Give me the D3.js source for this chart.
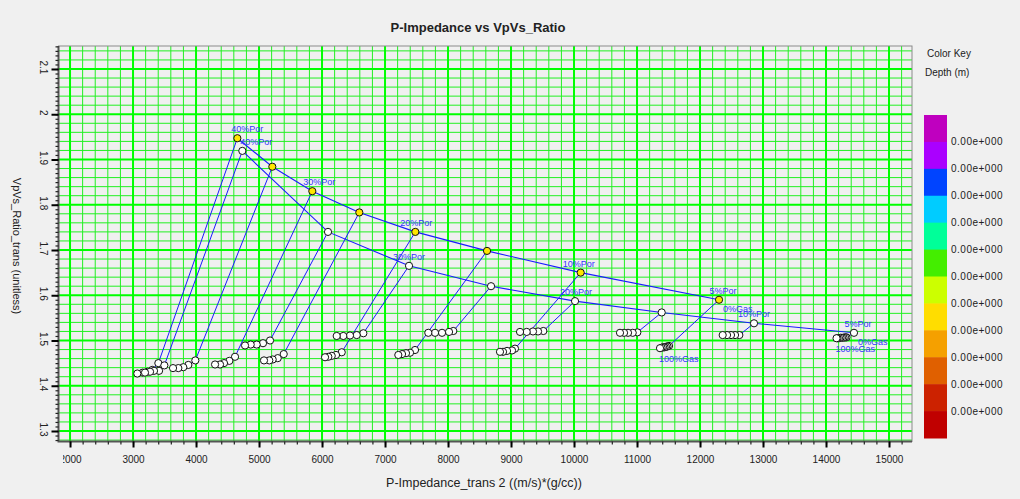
<!DOCTYPE html>
<html>
<head>
<meta charset="utf-8">
<script src="https://cdnjs.cloudflare.com/ajax/libs/d3/7.8.5/d3.min.js"></script>
<style>
body { margin: 0; background: #f0f0f0; }
svg { display: block; font-family: "Liberation Sans", Arial, sans-serif; }
</style>
</head>
<body>
<svg id="chart" width="1020" height="499"></svg>
<script>
// porosity steps shared by both templates
const porosity = [40, 35, 30, 25, 20, 15, 10, 5];

// upper template (yellow markers), brine case
const upperImp  = [4656, 5211, 5846, 6592, 7481, 8619, 10106, 12302];
const upperVpVs = [1.947, 1.884, 1.830, 1.783, 1.740, 1.698, 1.650, 1.590];

// lower template (white markers), brine case
const lowerImp  = [4735, 6095, 7381, 8683, 10016, 11392, 12857, 14444];
const lowerVpVs = [1.919, 1.740, 1.665, 1.620, 1.587, 1.562, 1.538, 1.517];

// gas substitution points hanging off each upper porosity point
const upperGasImp = [
  [3402, 3306, 3233, 3154, 3068],
  [3989, 3878, 3798, 3719, 3635],
  [4619, 4529, 4444, 4381, 4302],
  [5392, 5297, 5217, 5163, 5079],
  [6313, 6222, 6154, 6100, 6048],
  [7476, 7397, 7333, 7270, 7211],
  [9063, 9016, 8937, 8873, 8825],
  [11508, 11484, 11460, 11437, 11413, 11389, 11365]
];
const upperGasVpVs = [
  [1.450, 1.435, 1.431, 1.429, 1.427],
  [1.456, 1.446, 1.441, 1.439, 1.439],
  [1.464, 1.455, 1.450, 1.447, 1.447],
  [1.470, 1.461, 1.458, 1.456, 1.456],
  [1.474, 1.468, 1.466, 1.464, 1.463],
  [1.479, 1.473, 1.472, 1.470, 1.468],
  [1.482, 1.478, 1.477, 1.475, 1.475],
  [1.488, 1.487, 1.486, 1.485, 1.485, 1.484, 1.483]
];

// gas substitution points hanging off each lower porosity point
const lowerGasImp = [
  [3497, 3413, 3333, 3270, 3190],
  [5175, 5063, 4963, 4868, 4778],
  [6656, 6551, 6444, 6338, 6233],
  [8084, 8016, 7905, 7794, 7687],
  [9513, 9429, 9349, 9249, 9143],
  [11005, 10932, 10857, 10794, 10730],
  [12624, 12556, 12492, 12429, 12360],
  [14325, 14302, 14278, 14254, 14230, 14206, 14183, 14167]
];
const lowerGasVpVs = [
  [1.445, 1.433, 1.433, 1.431, 1.429],
  [1.500, 1.494, 1.491, 1.491, 1.489],
  [1.516, 1.512, 1.511, 1.510, 1.510],
  [1.521, 1.519, 1.517, 1.517, 1.517],
  [1.521, 1.520, 1.520, 1.519, 1.519],
  [1.518, 1.517, 1.517, 1.517, 1.517],
  [1.512, 1.512, 1.512, 1.512, 1.512],
  [1.507, 1.507, 1.506, 1.506, 1.506, 1.505, 1.505, 1.505]
];

// which porosity points carry a label
const labelled = [0, 2, 4, 6, 7];

// colour key
const keyColors = ["#bf00bf", "#aa00ff", "#0044ff", "#00ccff", "#00ff99", "#44ee00",
                   "#ccff00", "#ffdd00", "#f5a000", "#e06000", "#cc2200", "#c00000"];
const keyLabels = ["0.00e+000", "0.00e+000", "0.00e+000", "0.00e+000", "0.00e+000", "0.00e+000",
                   "0.00e+000", "0.00e+000", "0.00e+000", "0.00e+000", "0.00e+000"];

const svg = d3.select("#chart");
const plot = {left: 58.5, right: 912, top: 46, bottom: 441.5};
const blue = "#1a1aff";
const labelBlue = "#3434ff";

const x = d3.scaleLinear().domain([1817, 15365]).range([plot.left, plot.right]);
const y = d3.scaleLinear().domain([1.2768, 2.1508]).range([plot.bottom, plot.top]);

// title and axis names
svg.append("text").attr("x", 478).attr("y", 32).attr("text-anchor", "middle")
  .attr("font-size", 13).attr("font-weight", "bold").attr("fill", "#222")
  .text("P-Impedance vs VpVs_Ratio");
svg.append("text").attr("x", 484).attr("y", 487).attr("text-anchor", "middle")
  .attr("font-size", 12.5).attr("fill", "#222")
  .text("P-Impedance_trans 2 ((m/s)*(g/cc))");
svg.append("text").attr("text-anchor", "middle").attr("font-size", 11).attr("fill", "#222")
  .attr("transform", "translate(13,246) rotate(90)")
  .text("VpVs_Ratio_trans (unitless)");

// grid
const grid = svg.append("g");
const xGrid = d3.range(2000, 15201, 200);
const yGrid = d3.range(128, 215, 2);
grid.selectAll(".vminor").data(xGrid.filter(d => d % 1000 !== 0)).join("line")
  .attr("x1", d => x(d)).attr("x2", d => x(d)).attr("y1", plot.top).attr("y2", plot.bottom)
  .attr("stroke", "#22f022").attr("stroke-width", 1);
grid.selectAll(".hminor").data(yGrid.filter(d => d % 10 !== 0)).join("line")
  .attr("y1", d => y(d / 100)).attr("y2", d => y(d / 100)).attr("x1", plot.left).attr("x2", plot.right)
  .attr("stroke", "#22f022").attr("stroke-width", 1);
grid.selectAll(".vmajor").data(xGrid.filter(d => d % 1000 === 0)).join("line")
  .attr("x1", d => x(d)).attr("x2", d => x(d)).attr("y1", plot.top).attr("y2", plot.bottom)
  .attr("stroke", "#00ff00").attr("stroke-width", 2);
grid.selectAll(".hmajor").data(yGrid.filter(d => d % 10 === 0)).join("line")
  .attr("y1", d => y(d / 100)).attr("y2", d => y(d / 100)).attr("x1", plot.left).attr("x2", plot.right)
  .attr("stroke", "#00ff00").attr("stroke-width", 2);

// frame
svg.append("rect").attr("x", plot.left).attr("y", plot.top)
  .attr("width", plot.right - plot.left).attr("height", plot.bottom - plot.top)
  .attr("fill", "none").attr("stroke", "#8a8a8a").attr("stroke-width", 1);
svg.append("path")
  .attr("d", `M${plot.left},${plot.top}V${plot.bottom}H${plot.right}`)
  .attr("fill", "none").attr("stroke", "#555").attr("stroke-width", 2);

// x axis
const xMinor = svg.append("g").attr("transform", `translate(0,${plot.bottom})`)
  .call(d3.axisBottom(x).tickValues(xGrid).tickSize(3).tickFormat(""));
xMinor.select(".domain").remove();
xMinor.selectAll("line").attr("stroke", "#222").attr("stroke-width", 1.2);

svg.append("clipPath").attr("id", "xclip").append("rect")
  .attr("x", 63).attr("y", 0).attr("width", 1000).attr("height", 499);
const xMajor = svg.append("g").attr("clip-path", "url(#xclip)")
  .append("g").attr("transform", `translate(0,${plot.bottom})`)
  .call(d3.axisBottom(x).tickValues(d3.range(2000, 15001, 1000)).tickSize(6).tickPadding(8)
    .tickFormat(d3.format("d")));
xMajor.select(".domain").remove();
xMajor.attr("font-family", null).attr("font-size", 10);
xMajor.selectAll("line").attr("stroke", "#000").attr("stroke-width", 2);
xMajor.selectAll("text").attr("fill", "#222");

// y axis
const yMinor = svg.append("g").attr("transform", `translate(${plot.left},0)`)
  .call(d3.axisLeft(y).tickValues(d3.range(128, 216, 1).map(v => v / 100)).tickSize(3).tickFormat(""));
yMinor.select(".domain").remove();
yMinor.selectAll("line").attr("stroke", "#222").attr("stroke-width", 1.2);

const yMajor = svg.append("g").attr("transform", `translate(${plot.left},0)`)
  .call(d3.axisLeft(y).tickValues(d3.range(13, 22).map(v => v / 10)).tickSize(7)
    .tickFormat(d => String(+d.toFixed(1))));
yMajor.select(".domain").remove();
yMajor.attr("font-family", null).attr("font-size", 10);
yMajor.selectAll("line").attr("stroke", "#000").attr("stroke-width", 2);
yMajor.selectAll("text")
  .attr("x", 0).attr("dy", null).attr("text-anchor", "middle").attr("fill", "#222")
  .attr("transform", "translate(-18.5,-2) rotate(90)");

// template data as point lists
const upperPts = upperImp.map((v, i) => [v, upperVpVs[i]]);
const lowerPts = lowerImp.map((v, i) => [v, lowerVpVs[i]]);
const upperPaths = upperGasImp.map((g, i) => [upperPts[i], ...g.map((v, j) => [v, upperGasVpVs[i][j]])]);
const lowerPaths = lowerGasImp.map((g, i) => [lowerPts[i], ...g.map((v, j) => [v, lowerGasVpVs[i][j]])]);

const line = d3.line().x(d => x(d[0])).y(d => y(d[1]));
const marks = svg.append("g");

marks.selectAll(".gasline").data([...upperPaths, ...lowerPaths]).join("path")
  .attr("d", line).attr("fill", "none").attr("stroke", blue).attr("stroke-width", 1);
marks.selectAll(".porline").data([upperPts, lowerPts]).join("path")
  .attr("d", line).attr("fill", "none").attr("stroke", blue).attr("stroke-width", 1.1);

const gasPts = [...upperPaths, ...lowerPaths].flatMap(p => p.slice(1));
marks.selectAll(".gaspt").data(gasPts).join("circle")
  .attr("cx", d => x(d[0])).attr("cy", d => y(d[1])).attr("r", 3.6)
  .attr("fill", "#fff").attr("stroke", "#111").attr("stroke-width", 1);
marks.selectAll(".lowpt").data(lowerPts).join("circle")
  .attr("cx", d => x(d[0])).attr("cy", d => y(d[1])).attr("r", 3.6)
  .attr("fill", "#fff").attr("stroke", "#111").attr("stroke-width", 1);
marks.selectAll(".uppt").data(upperPts).join("circle")
  .attr("cx", d => x(d[0])).attr("cy", d => y(d[1])).attr("r", 3.6)
  .attr("fill", "#ffe600").attr("stroke", "#111").attr("stroke-width", 1);

// labels
const upperNudge = [10, 0, 7, 0, 1, 0, -2, 4];
const lowerNudge = [14, 0, 0, 0, 1, 0, 0, 4];
const labels = svg.append("g").attr("font-size", 9).attr("fill", labelBlue);
labelled.forEach(i => {
  labels.append("text").attr("text-anchor", "middle")
    .attr("x", x(upperImp[i]) + upperNudge[i]).attr("y", y(upperVpVs[i]) - 6)
    .text(porosity[i] + "%Por");
  labels.append("text").attr("text-anchor", "middle")
    .attr("x", x(lowerImp[i]) + lowerNudge[i]).attr("y", y(lowerVpVs[i]) - 6)
    .text(porosity[i] + "%Por");
});
[upperPaths[7], lowerPaths[7]].forEach(p => {
  const top = p[0], last = p[p.length - 1];
  labels.append("text").attr("x", x(top[0]) + 4).attr("y", y(top[1]) + 12).text("0%Gas");
  labels.append("text").attr("x", x(last[0]) - 1).attr("y", y(last[1]) + 14).text("100%Gas");
});

// colour key
const key = svg.append("g").attr("fill", "#222");
key.append("text").attr("x", 927).attr("y", 56.5).attr("font-size", 10).text("Color Key");
key.append("text").attr("x", 925).attr("y", 75.5).attr("font-size", 10).text("Depth (m)");
const band = d3.scaleBand().domain(d3.range(keyColors.length)).range([115, 438]);
key.selectAll("rect").data(keyColors).join("rect")
  .attr("x", 924).attr("width", 23)
  .attr("y", (d, i) => band(i)).attr("height", band.bandwidth() + 0.5)
  .attr("fill", d => d);
key.selectAll(".klab").data(keyLabels).join("text")
  .attr("x", 951).attr("y", (d, i) => band(i + 1))
  .attr("dy", "0.35em").attr("font-size", 10).attr("letter-spacing", 0.5)
  .text(d => d);
</script>
</body>
</html>
